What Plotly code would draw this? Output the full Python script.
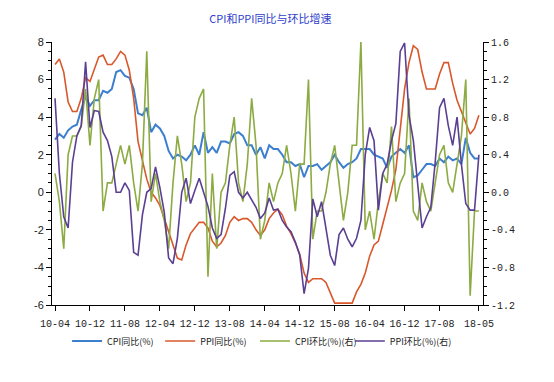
import plotly.graph_objects as go

months = []
y, m = 2010, 4
while (y, m) <= (2018, 5):
    months.append(f"{y}-{m:02d}")
    m += 1
    if m > 12:
        m = 1
        y += 1

cpi_yoy = [2.8, 3.1, 2.9, 3.3, 3.5, 3.6, 4.4, 5.1, 4.6,
           4.9, 4.9, 5.4, 5.3, 5.5, 6.4, 6.5, 6.2, 6.1, 5.5, 4.2, 4.1,
           4.5, 3.2, 3.6, 3.4, 3.0, 2.2, 1.8, 2.0, 1.9, 1.7, 2.0, 2.5,
           2.0, 3.2, 2.1, 2.4, 2.1, 2.7, 2.7, 2.6, 3.1, 3.2, 3.0, 2.5,
           2.5, 2.0, 2.4, 1.8, 2.5, 2.3, 2.3, 2.0, 1.6, 1.6, 1.4, 1.5,
           0.8, 1.4, 1.4, 1.5, 1.2, 1.4, 1.6, 2.0, 1.6, 1.3, 1.5, 1.6,
           1.8, 2.3, 2.3, 2.3, 2.0, 1.9, 1.8, 1.3, 1.9, 2.1, 2.3, 2.1,
           2.5, 0.8, 0.9, 1.2, 1.5, 1.5, 1.4, 1.8, 1.6, 1.9, 1.7, 1.8,
           1.5, 2.9, 2.1, 1.8, 1.8]

ppi_yoy = [6.8, 7.1, 6.4, 4.8, 4.3, 4.3, 5.0, 6.1, 5.9,
           6.6, 7.2, 7.3, 6.8, 6.8, 7.1, 7.5, 7.3, 6.5, 5.0, 2.7, 1.7,
           0.7, 0.0, -0.3, -0.7, -1.4, -2.1, -2.9, -3.5, -3.6, -2.8, -2.2, -1.9,
           -1.6, -1.6, -1.9, -2.6, -2.9, -2.7, -2.3, -1.6, -1.3, -1.5, -1.4, -1.4,
           -1.6, -2.0, -2.3, -2.0, -1.4, -1.1, -0.9, -1.2, -1.8, -2.2, -2.7, -3.3,
           -4.3, -4.8, -4.6, -4.6, -4.6, -4.8, -5.4, -5.9, -5.9, -5.9, -5.9, -5.9,
           -5.3, -4.9, -4.3, -3.4, -2.8, -2.6, -1.7, -0.8, 0.1, 1.2, 3.3, 5.5,
           6.9, 7.8, 7.6, 6.4, 5.5, 5.5, 5.5, 6.3, 6.9, 6.9, 5.8, 4.9,
           4.3, 3.7, 3.1, 3.4, 4.1]

cpi_mom = [0.2, -0.1, -0.6, 0.4, 0.6, 0.6, 0.7, 1.1, 0.5,
           1.0, 1.2, -0.2, 0.1, 0.1, 0.3, 0.5, 0.3, 0.5, 0.1, -0.2, 0.3,
           1.5, -0.1, 0.2, -0.1, -0.3, -0.6, 0.1, 0.6, 0.3, -0.1, 0.1, 0.8,
           1.0, 1.1, -0.9, 0.2, -0.6, 0.0, 0.1, 0.5, 0.8, 0.1, -0.1, 0.3,
           1.0, 0.5, -0.5, -0.3, 0.1, -0.1, 0.1, 0.2, 0.5, 0.2, -0.2, 0.3,
           0.3, 1.2, -0.5, -0.2, -0.2, 0.0, 0.3, 0.5, 0.1, -0.3, 0.0, 0.5,
           0.5, 1.6, -0.4, -0.2, -0.5, -0.1, 0.2, 0.1, 0.7, -0.1, 0.1, 0.2,
           1.0, -0.2, -0.3, 0.1, -0.1, -0.2, 0.1, 0.4, 0.5, 0.1, 0.0, 0.3,
           0.6, 1.2, -1.1, -0.2, -0.2]

ppi_mom = [1.0, 0.2, -0.26, -0.38, 0.32, 0.6, 0.71, 1.39, 0.69,
           0.87, 0.86, 0.64, 0.55, 0.38, 0.0, 0.0, 0.1, 0.02, -0.64, -0.67, -0.24,
           0.0, 0.04, 0.27, 0.05, -0.21, -0.7, -0.76, -0.49, 0.0, 0.15, -0.12, 0.02,
           0.15, 0.0, -0.15, -0.38, -0.49, -0.45, -0.17, 0.18, 0.22, 0.0, -0.06, 0.0,
           -0.08, -0.16, -0.28, -0.22, -0.06, -0.19, -0.18, -0.3, -0.37, -0.42, -0.53, -0.67,
           -1.08, -0.81, -0.07, -0.26, -0.1, -0.38, -0.67, -0.78, -0.45, -0.38, -0.5, -0.58,
           -0.49, -0.3, 0.4, 0.69, 0.55, -0.19, 0.2, 0.3, 0.55, 0.73, 1.5, 1.59,
           0.82, 0.55, 0.1, -0.38, -0.26, -0.16, 0.32, 0.9, 1.0, 0.71, 0.5, 0.8,
           0.3, -0.12, -0.19, -0.19, 0.4]

x_tick_months = ["2010-04", "2010-12", "2011-08", "2012-04", "2012-12", "2013-08",
                 "2014-04", "2014-12", "2015-08", "2016-04", "2016-12", "2017-08", "2018-05"]
x_tick_labels = ["10-04", "10-12", "11-08", "12-04", "12-12", "13-08",
                 "14-04", "14-12", "15-08", "16-04", "16-12", "17-08", "18-05"]
left_ticks = [-6, -4, -2, 0, 2, 4, 6, 8]
left_labels = ["-6", "-4", "-2", "0", "2", "4", "6", "8"]
right_ticks = [-1.2, -0.8, -0.4, 0.0, 0.4, 0.8, 1.2, 1.6]
right_labels = ["-1.2", "-0.8", "-0.4", "0.0", "0.4", "0.8", "1.2", "1.6"]

names = ["CPI同比(%)", "PPI同比(%)", "CPI环比(%)(右)", "PPI环比(%)(右)"]
colors = ["#3d7fcf", "#d9582b", "#8cab42", "#5b3f93"]
series = [cpi_yoy, ppi_yoy, cpi_mom, ppi_mom]
axes = ["y", "y", "y2", "y2"]
widths = [2, 1.6, 1.6, 1.6]
legend_ids = ["legend", "legend2", "legend3", "legend4"]
legend_x = [0.035, 0.251, 0.471, 0.691]

fig = go.Figure()
for name, vals, col, ax, w, lg in zip(names, series, colors, axes, widths, legend_ids):
    fig.add_trace(go.Scatter(x=months, y=vals, name=name, mode="lines",
                             line=dict(color=col, width=w), yaxis=ax, legend=lg))

tickfont_mono = dict(family="Liberation Mono", size=10, color="#222222")
legend_font = dict(family="Noto Sans CJK SC", size=9, color="#222222")

legend_layout = {}
for lg, lx in zip(legend_ids, legend_x):
    legend_layout[lg] = dict(orientation="h", x=lx, xanchor="left", y=-0.137, yanchor="middle",
                             font=legend_font, itemwidth=30, bgcolor="rgba(0,0,0,0)")

fig.update_layout(
    width=554, height=382,
    margin=dict(l=52, r=71, t=42, b=77),
    paper_bgcolor="white", plot_bgcolor="white",
    title=dict(text="CPI和PPI同比与环比增速", x=0.488, xanchor="center", y=0.95, yanchor="middle",
               font=dict(family="Noto Sans CJK SC", size=11, color="#3040cc")),
    xaxis=dict(type="category", range=[-0.69, 97.94], tickmode="array",
               tickvals=x_tick_months, ticktext=x_tick_labels,
               ticks="outside", ticklen=5, tickcolor="black", showline=True,
               linecolor="black", linewidth=1, showgrid=False, zeroline=False,
               ticklabelstandoff=4, tickfont=tickfont_mono),
    yaxis=dict(range=[-6, 8], tickmode="array", tickvals=left_ticks, ticktext=left_labels,
               ticks="outside", ticklen=5, tickcolor="black", showline=True,
               linecolor="black", linewidth=1, showgrid=False, zeroline=False,
               minor=dict(dtick=0.5, ticks="outside", ticklen=3, tickcolor="black", showgrid=False),
               tickfont=dict(family="Liberation Sans", size=11, color="#222222")),
    yaxis2=dict(range=[-1.2, 1.6], overlaying="y", side="right", tickmode="array",
                tickvals=right_ticks, ticktext=right_labels,
                ticks="outside", ticklen=5, tickcolor="black", showline=True,
                linecolor="black", linewidth=1, showgrid=False, zeroline=False,
                minor=dict(dtick=0.1, ticks="outside", ticklen=3, tickcolor="black", showgrid=False),
                tickfont=tickfont_mono),
    showlegend=True,
    **legend_layout,
)

fig.write_html("out.html", config={"displayModeBar": False},
               post_script="document.body.style.margin='0';document.body.style.overflow='hidden';")
